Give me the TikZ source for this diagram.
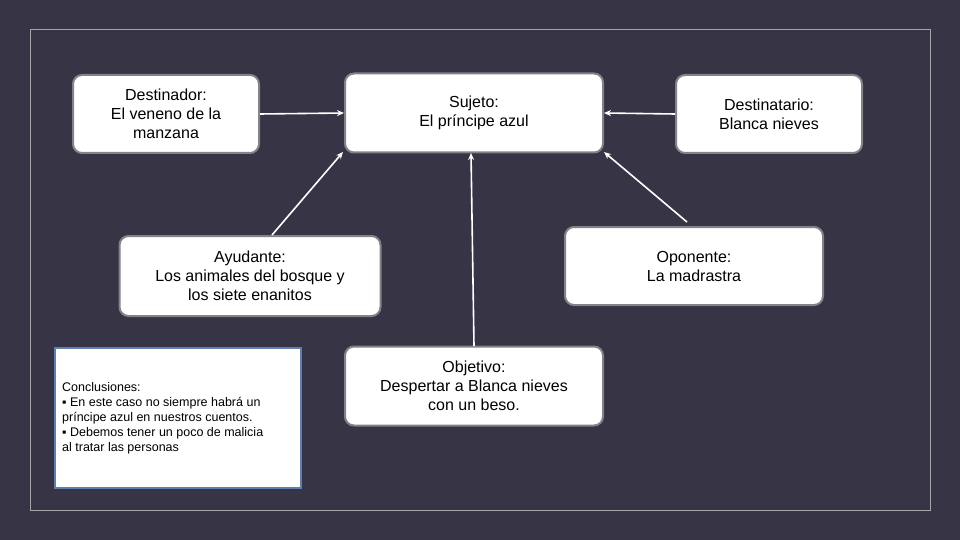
\documentclass[tikz,border=0pt]{standalone}
\usepackage{fontspec}
\setmainfont{Liberation Sans}
\usetikzlibrary{arrows.meta}
\definecolor{bg}{HTML}{373545}
\definecolor{bd}{HTML}{7F8488}
\definecolor{cb}{HTML}{5F7FB0}
\begin{document}
\begin{tikzpicture}[x=1pt,y=-1pt,
  box/.style={draw=bd,line width=2pt,fill=white,rounded corners=9pt,align=center,inner sep=0pt,font=\fontsize{16}{19}\selectfont},
  arr/.style={draw=white,line width=1.6pt,-{Stealth[length=7pt,width=6pt]}}]
\fill[bg] (0,0) rectangle (960,540);
\useasboundingbox (0,0) rectangle (960,540);
\draw[gray!70,line width=0.8pt] (30,29) rectangle (930,510);
\node[box,minimum width=186pt,minimum height=78pt] (dest) at (166,114) {Destinador:\\El veneno de la\\manzana};
\node[box,minimum width=258pt,minimum height=79pt] (suj) at (474,113) {Sujeto:\\El príncipe azul};
\node[box,minimum width=186pt,minimum height=78pt] (dtar) at (769,114) {Destinatario:\\Blanca nieves};
\node[box,minimum width=261pt,minimum height=80pt] (ayu) at (250,276) {Ayudante:\\Los animales del bosque y\\los siete enanitos};
\node[box,minimum width=258pt,minimum height=78pt] (opo) at (694,266) {Oponente:\\La madrastra};
\node[box,minimum width=258pt,minimum height=79pt] (obj) at (474,386) {Objetivo:\\Despertar a Blanca nieves\\con un beso.};
\node[draw=cb,line width=1.5pt,fill=white,minimum width=246pt,minimum height=140pt,inner sep=0pt] (conc) at (178,418) {};
\node[anchor=west,align=left,font=\fontsize{12.5}{15}\selectfont,inner sep=0pt] (conct) at (62,418) {Conclusiones:\\▪ En este caso no siempre habrá un\\príncipe azul en nuestros cuentos.\\▪ Debemos tener un poco de malicia\\al tratar las personas};
\coordinate (ayuT) at (272,235);
\coordinate (opoT) at (687,222);
\coordinate (objT) at (474,346);
\coordinate (sujBL) at (343,152);
\coordinate (sujBR) at (604,152);
\coordinate (sujB) at (471,153);
\draw[arr] (dest.east) -- (suj.west);
\draw[arr] (dtar.west) -- (suj.east);
\draw[arr] (ayuT) -- (sujBL);
\draw[arr] (opoT) -- (sujBR);
\draw[arr] (objT) -- (sujB);
\end{tikzpicture}
\end{document}
